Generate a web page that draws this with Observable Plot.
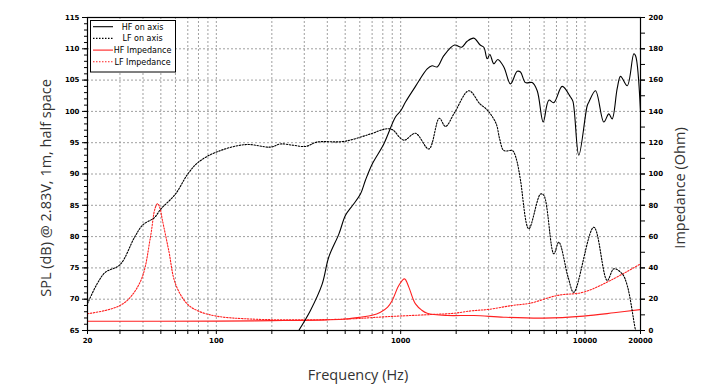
<!DOCTYPE html>
<html><head><meta charset="utf-8">
<script src="https://cdn.jsdelivr.net/npm/d3@7"></script>
<script src="https://cdn.jsdelivr.net/npm/@observablehq/plot@0.6"></script>
<style>
body{margin:0;background:#fff;}
#chart{position:relative;width:703px;height:389px;}
#legend{position:absolute;left:90px;top:20px;}
</style></head><body><div id="chart"></div>
<script>
// ---- data ----
const hfFreq = [280,324,375,407,462,502,549,605,644,701,810,937,1000,1062,1203,1393,1480,1578,1714,1960,2140,2295,2493,2700,2825,2947,3046,3202,3365,3627,3943,4285,4467,4754,5170,5504,5933,6363,6772,7520,8343,8600,9254,10277,10500,11400,12647,13460,14030,14960,15590,16943,18400,18800,20000];
const hfSpl  = [65,68.2,72.4,76.7,80.4,83.4,85,86.8,89,91.6,94.8,99.1,100.1,101.5,104,106.8,107.3,107.1,108.9,110.6,110.25,111.2,111.7,110.6,110.25,108.4,109.1,107.6,108.3,107.1,104.4,106.4,106.3,104.6,104.6,103.3,98.3,101.8,101.4,104,102.3,101.6,93,100.9,101.5,103.3,98.3,99.6,98.8,103.7,105.6,104.1,109.2,108.9,99.9];

const lfFreq = [20,22.6,25,30,36,40,46,50,60,70,80,100,144,197,223,260,305,352,490,686,827,900,1040,1203,1422,1620,1750,1960,2343,2690,2884,3068,3300,3450,3627,4027,4110,4285,4467,4955,5737,5978,6772,7207,8100,8690,11165,13196,14333,15920,16943,18800,19500];
const lfSpl  = [69.3,72.5,74.3,75.5,79.9,81.9,83,84.4,86.8,90,91.9,93.5,94.7,94.3,94.8,94.6,94.4,95.1,95.2,96.4,97.2,97.1,95.4,96.5,94,98.9,97.6,99.8,103.3,101.2,100.5,99.6,98,95.5,93.75,93.75,93.5,91.9,89,81.25,86.8,86.6,77.25,79.1,73.5,71.1,81.5,73,74.85,74.05,72.2,65,63];

const hfImpFreq = [20,100,200,400,500,605,700,777,850,900,977,1049,1107,1160,1203,1300,1393,1788,2493,3627,5978,9810,14333,20000];
const hfImp     = [5.9,6,6.3,6.8,7.3,8.5,9.7,11.7,15,19.2,28.75,33,27.7,21,17,13,11,9.6,9.6,8.5,7.9,9.2,11.3,13.4];

const lfImpFreq = [20,25,30,34.2,39.6,43.9,46.5,48,49.5,50.8,55.2,60,69.5,80.3,101,144,237,500,860,1451,1942,2394,2687,3006,4027,5062,7067,9810,13750,20000];
const lfImp     = [10.7,12.8,16,21.3,34,59.6,78,81,78,71.4,51,29.8,17,12.3,9.1,7.5,6.8,7.3,8.9,10.2,11,12.5,13,13.5,16,17.5,22.4,24.5,32,42.6];

const xTickLabels = [20,100,500,1000,10000,20000];
const seriesNames = ["HF on axis","LF on axis","HF Impedance","LF Impedance"];

// impedance (0..200 Ohm) shares the plot with SPL (65..115 dB)
const ohmToDb = o => 65 + o / 4;
const dbToOhm = d => (d - 65) * 4;

const hfData = hfFreq.map((f,i)=>({f, v:hfSpl[i]}));
const lfData = lfFreq.map((f,i)=>({f, v:lfSpl[i]}));
const hfImpData = hfImpFreq.map((f,i)=>({f, v:ohmToDb(hfImp[i])}));
const lfImpData = lfImpFreq.map((f,i)=>({f, v:ohmToDb(lfImp[i])}));

const minorX = [];
for (const p of [10,100,1000]) for (let k=1;k<=9;k++){ const v=k*p; if (v>=20) minorX.push(v); }
minorX.push(10000, 20000);
const gridXs = minorX.filter(v => v>20 && v<20000);

const gridStyle = {stroke:"#888", strokeOpacity:1, strokeDasharray:"2,2", strokeWidth:0.8};

const plot = Plot.plot({
  width:703, height:389,
  marginLeft:87, marginRight:63, marginTop:17, marginBottom:59,
  x:{type:"log", domain:[20,20000]},
  y:{domain:[65,115]},
  style:{fontFamily:"DejaVu Sans", fontSize:"7px", fontWeight:"bold", background:"white", color:"black"},
  marks:[
    Plot.gridX({ticks:gridXs, ...gridStyle}),
    Plot.gridY({ticks:d3.range(70,115,5), ...gridStyle}),
    Plot.line(lfImpData, {x:"f", y:"v", stroke:"#ff2020", strokeWidth:1.1, strokeDasharray:"1.5,1.5", curve:"catmull-rom", clip:true}),
    Plot.line(hfImpData, {x:"f", y:"v", stroke:"#ff2020", strokeWidth:1.1, curve:"catmull-rom", clip:true}),
    Plot.line(lfData, {x:"f", y:"v", stroke:"#000", strokeWidth:1.1, strokeDasharray:"1.5,1.5", curve:"catmull-rom", clip:true}),
    Plot.line(hfData, {x:"f", y:"v", stroke:"#000", strokeWidth:1.1, curve:"catmull-rom", clip:true}),
    Plot.frame({stroke:"black", strokeWidth:1.2}),
    Plot.axisX({ticks:minorX, tickSize:4, tickPadding:4, tickFormat: d => xTickLabels.includes(d) ? String(d) : "", label:null}),
    Plot.axisY({anchor:"left", ticks:d3.range(65,116,5), tickSize:5, tickPadding:3, label:null}),
    Plot.axisY({anchor:"left", ticks:d3.range(65,116,1), tickSize:3, tickFormat:()=>"", label:null}),
    Plot.axisY({anchor:"right", ticks:d3.range(65,116,5), tickSize:4, tickPadding:4, tickFormat: d => String(dbToOhm(d)), label:null}),
    Plot.axisY({anchor:"right", ticks:d3.range(65,116,2.5), tickSize:4, tickFormat:()=>"", label:null})
  ]
});

document.getElementById("chart").appendChild(plot);

// axis titles
const svg = d3.select(plot);
const tStyle = t => t.attr("font-family","Open Sans").attr("font-size","14.5px").attr("font-weight","normal").attr("fill","#333").attr("text-anchor","middle");
svg.append("text").call(tStyle).attr("transform","translate(51,188) rotate(-90)").text("SPL (dB) @ 2.83V, 1m, half space");
svg.append("text").call(tStyle).attr("transform","translate(685,188) rotate(-90)").text("Impedance (Ohm)");
svg.append("text").call(tStyle).attr("x",358).attr("y",380).text("Frequency (Hz)");

// legend
const legend = d3.select("#chart").append("svg").attr("id","legend").attr("width",86).attr("height",53);
legend.append("rect").attr("x",0.5).attr("y",0.5).attr("width",85).attr("height",51.5).attr("fill","white").attr("stroke","black").attr("stroke-width",1);
const styles = [
  {stroke:"#000", dash:null},
  {stroke:"#000", dash:"1.5,1.5"},
  {stroke:"#ff2020", dash:null},
  {stroke:"#ff2020", dash:"1.5,1.5"}
];
seriesNames.forEach((name,i)=>{
  const y = 6.7 + i*11.7;
  legend.append("line").attr("x1",3).attr("x2",23).attr("y1",y).attr("y2",y)
    .attr("stroke",styles[i].stroke).attr("stroke-width",1.1).attr("stroke-dasharray",styles[i].dash);
  legend.append("text").attr("x",52.5).attr("y",y+2.8).attr("text-anchor","middle")
    .attr("font-family","DejaVu Sans").attr("font-size","8px").attr("fill","#000").text(name);
});
</script>
</body></html>
